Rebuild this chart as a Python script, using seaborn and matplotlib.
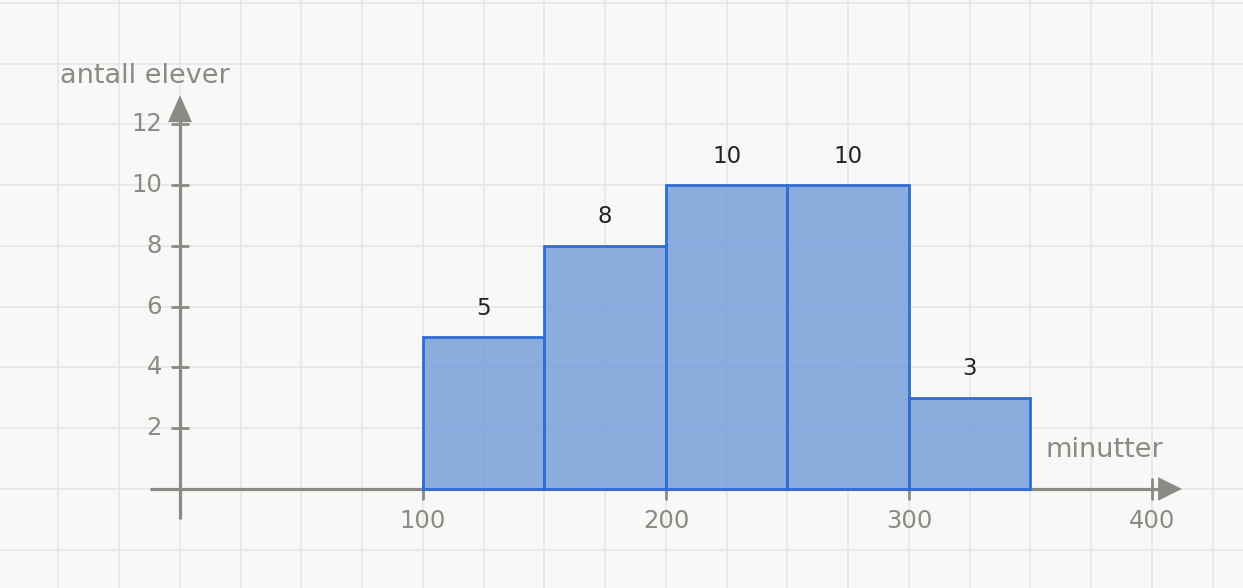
import numpy as np
import pandas as pd
import matplotlib
matplotlib.use("Agg")
import matplotlib.pyplot as plt
import seaborn as sns

# data
bin_edges = [100, 150, 200, 250, 300, 350]
counts = [5, 8, 10, 10, 3]
x_ticks = [100, 200, 300, 400]
y_ticks = [2, 4, 6, 8, 10, 12]
x_label = "minutter"
y_label = "antall elever"

mids = [(a + b) / 2 for a, b in zip(bin_edges[:-1], bin_edges[1:])]
df = pd.DataFrame({"minutter": mids, "antall": counts})

sns.set_theme(style="white")
plt.rcParams["font.family"] = ["DejaVu Sans"]

axis_col = "#8a8a86"
bg = "#f8f8f6"
grid_col = "#e7e7e4"

fig = plt.figure(figsize=(12.43, 5.88), dpi=100, facecolor=bg)
ax = fig.add_axes([0, 0, 1, 1])
ax.set_facecolor(bg)
ax.set_xlim(-74.07, 437.45)
ax.set_ylim(-3.26, 16.09)

# background grid
for gx in np.arange(-75, 450, 25):
    ax.axvline(gx, color=grid_col, lw=1.2, zorder=0)
for gy in np.arange(-2, 18, 2):
    ax.axhline(gy, color=grid_col, lw=1.2, zorder=0)

# histogram
sns.histplot(data=df, x="minutter", weights="antall", bins=bin_edges,
             color="#6f9ad9", alpha=0.8, edgecolor="#2f6dd3", linewidth=2,
             ax=ax, zorder=3)

# axes with arrows
ax.plot([-12.3, 402.5], [0, 0], color=axis_col, lw=2.3, zorder=2, solid_capstyle="butt")
ax.plot([0, 0], [-0.99, 12.1], color=axis_col, lw=2.3, zorder=2, solid_capstyle="butt")
ax.fill([402.5, 412.3, 402.5], [-0.39, 0, 0.39], color=axis_col, zorder=4, lw=0)
ax.fill([-4.9, 0, 4.9], [12.07, 12.96, 12.07], color=axis_col, zorder=4, lw=0)

for t in x_ticks:
    ax.plot([t, t], [-0.32, 0.32], color=axis_col, lw=2, zorder=2)
    ax.text(t, -1.05, str(t), ha="center", va="center", fontsize=17.5, color=axis_col)
for t in y_ticks:
    ax.plot([-3.3, 3.3], [t, t], color=axis_col, lw=2, zorder=2)
    ax.text(-7.4, t, str(t), ha="right", va="center", fontsize=17.5, color=axis_col)

# bar labels
for m, c in zip(mids, counts):
    ax.text(m, c + 0.95, str(c), ha="center", va="center", fontsize=16.5, color="#222222")

ax.text(-49.4, 13.6, y_label, ha="left", va="center", fontsize=19.5, color=axis_col)
ax.text(356, 1.28, x_label, ha="left", va="center", fontsize=19.5, color=axis_col)

ax.set_xlabel("")
ax.set_ylabel("")
ax.set_xticks([])
ax.set_yticks([])
for s in ax.spines.values():
    s.set_visible(False)

fig.savefig("out.png", dpi=100, facecolor=bg)
